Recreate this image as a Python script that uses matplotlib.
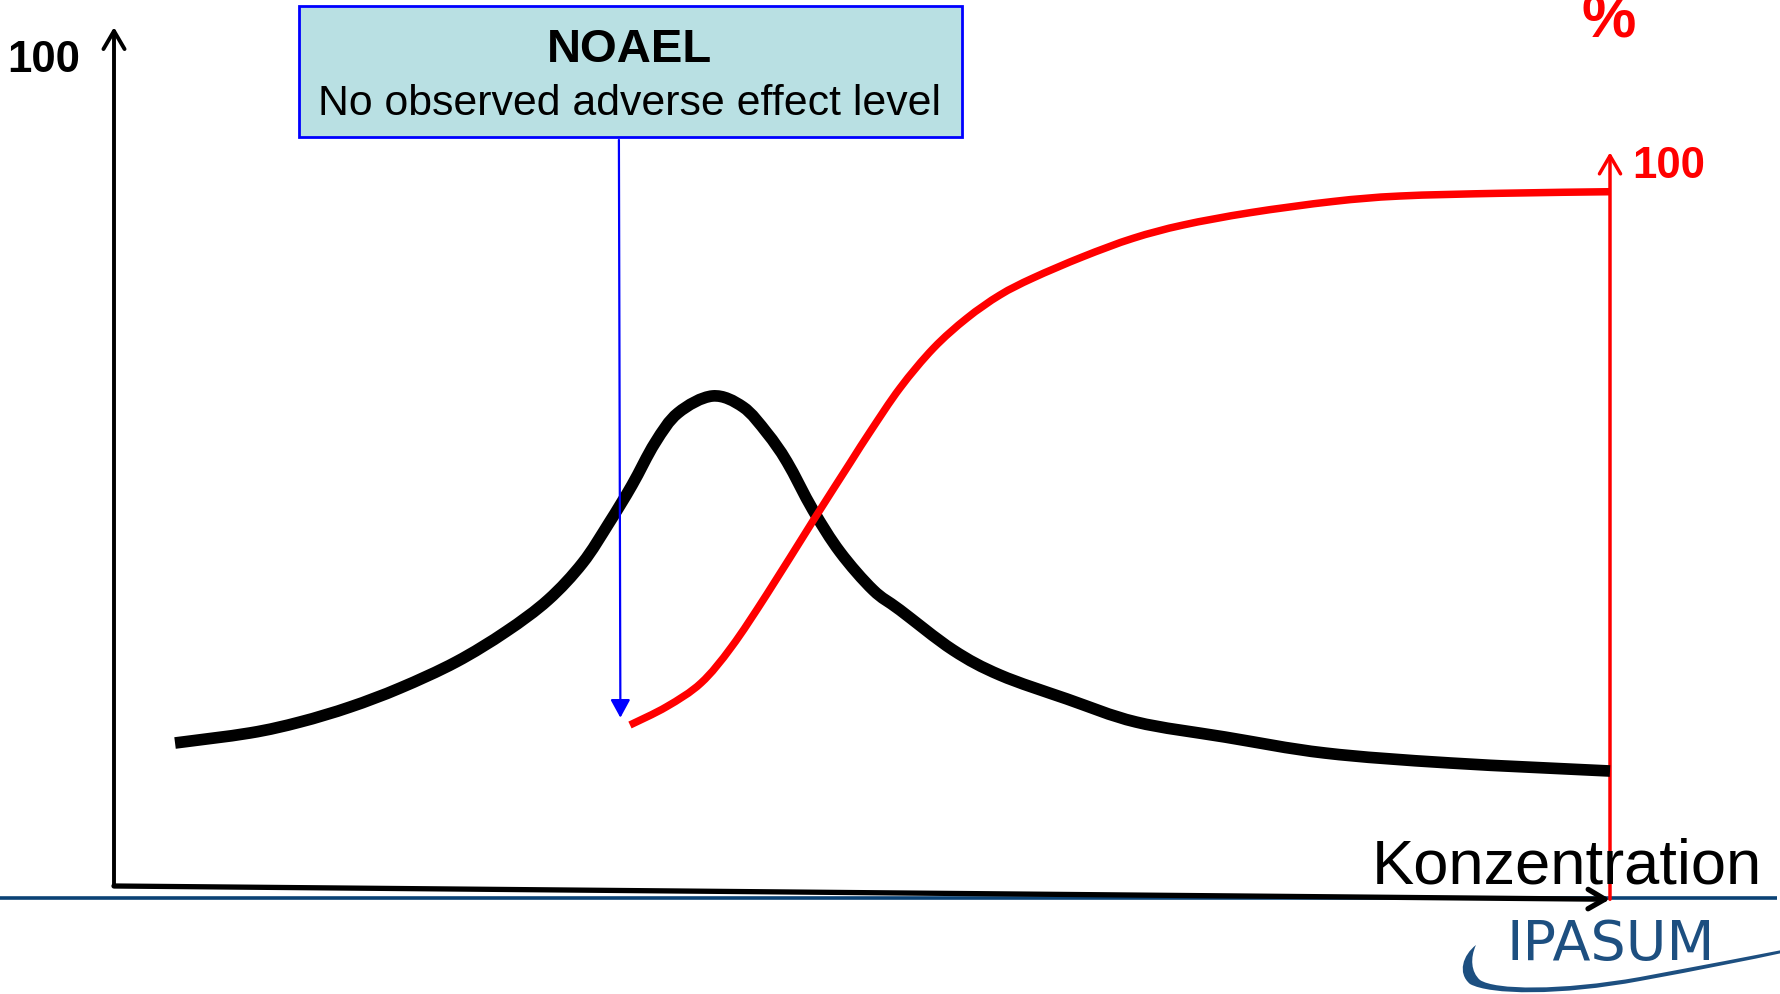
import matplotlib
matplotlib.use("Agg")
import matplotlib.pyplot as plt
from matplotlib.patches import Rectangle, PathPatch
from matplotlib.path import Path

# ---------------- data (concentration in %, effect in %) ----------------
conc_black = [4.08, 9.09, 12.43, 15.78, 19.12, 22.86, 26.20, 29.01, 31.32, 33.09,
              34.63, 36.16, 37.70, 40.01, 42.05, 43.65, 44.99, 46.72,
              48.53, 50.74, 52.54, 56.08, 59.22, 63.70, 68.32, 74.26, 80.95, 89.30, 100.0]
effect_black = [17.25, 18.46, 19.78, 21.59, 23.88, 27.02, 30.68, 34.50, 38.96, 43.79,
                48.37, 53.44, 57.06, 59.11, 57.78, 54.64, 51.15, 45.36,
                40.29, 35.71, 33.29, 28.47, 25.45, 22.56, 19.78, 17.97, 16.04, 14.84, 13.87]

conc_red = [34.49, 36.94, 39.24, 41.29, 43.65, 46.72, 49.20, 50.53, 52.54, 54.77,
            57.00, 59.22, 61.43, 64.77, 68.12, 71.46, 75.94, 81.48, 85.96, 92.65, 100.0]
effect_red = [19.42, 21.63, 24.49, 28.87, 35.22, 44.03, 51.03, 54.76, 60.07, 64.86,
              68.48, 71.29, 73.34, 75.91, 78.13, 79.73, 81.22, 82.57, 83.23, 83.56, 83.75]

noael_conc = 33.75
noael_arrow = [90.0, 20.3]          # start / end of the NOAEL pointer (effect units)
y_axis_range = [0.0, 103.6]
x_axis_conc = [0.0, 100.0]
x_axis_effect = [0.0, -1.6]
red_axis_range = [-1.6, 88.5]

left_label = "100"
right_label = "100"
right_unit = "%"
x_label = "Konzentration"
box_title = "NOAEL"
box_sub = "No observed adverse effect level"
logo_text = "IPASUM"

# ---------------- figure ----------------
W, H = 1781, 994
fig = plt.figure(figsize=(W / 100, H / 100), dpi=100)
fig.patch.set_facecolor("white")


def fx(px):
    return px / W


def fy(py):
    return 1 - py / H


def smooth_path(xs, ys):
    """Cubic Bezier path passing through every given point (Catmull-Rom)."""
    pts = list(zip(xs, ys))
    n = len(pts)
    verts = [pts[0]]
    codes = [Path.MOVETO]
    for i in range(n - 1):
        p0 = pts[i - 1] if i > 0 else pts[i]
        p1 = pts[i]
        p2 = pts[i + 1]
        p3 = pts[i + 2] if i + 2 < n else pts[i + 1]
        c1 = (p1[0] + (p2[0] - p0[0]) / 6.0, p1[1] + (p2[1] - p0[1]) / 6.0)
        c2 = (p2[0] - (p3[0] - p1[0]) / 6.0, p2[1] - (p3[1] - p1[1]) / 6.0)
        verts += [c1, c2, p2]
        codes += [Path.CURVE4] * 3
    return Path(verts, codes)


# decoration layer in pixel coordinates
deco = fig.add_axes([0, 0, 1, 1])
deco.set_xlim(0, W)
deco.set_ylim(H, 0)
deco.axis("off")

navy = "#0a4275"
deco.plot([0, 1777], [898, 898], color=navy, lw=2.6, solid_capstyle="butt", zorder=1)

deco.add_patch(Rectangle((299, 6), 663, 131, facecolor="#b9e0e3",
                         edgecolor="#0000ff", lw=2.0, zorder=2))

# logo swoosh
verts = [(1476, 945), (1463, 955), (1457, 973), (1470, 984),
         (1490, 995), (1560, 996), (1640, 981),
         (1700, 970), (1750, 960), (1782, 953),
         (1782, 950),
         (1750, 956), (1700, 966), (1640, 977),
         (1560, 991), (1495, 990), (1480, 980),
         (1471, 972), (1470, 958), (1476, 945),
         (1476, 945)]
codes = ([Path.MOVETO] + [Path.CURVE4] * 9 + [Path.LINETO] + [Path.CURVE4] * 9
         + [Path.CLOSEPOLY])
deco.add_patch(PathPatch(Path(verts, codes), facecolor="#1d4f80",
                         edgecolor="none", zorder=2))

# data layer
x0px, x100px = 114, 1610
y0px, y100px = 886, 57
sx = (x100px - x0px) / 100.0
sy = (y0px - y100px) / 100.0
ax = fig.add_axes([0, 0, 1, 1])
ax.set_xlim(-x0px / sx, (W - x0px) / sx)
ax.set_ylim(-(H - y0px) / sy, y0px / sy)
ax.axis("off")
ax.patch.set_alpha(0)

# axes drawn as arrows
ax.annotate("", xy=(0, y_axis_range[1]), xytext=(0, y_axis_range[0]),
            arrowprops=dict(arrowstyle="->,head_length=0.65,head_width=0.38",
                            mutation_scale=20, lw=2.8, color="black",
                            shrinkA=0, shrinkB=0), zorder=3)
ax.annotate("", xy=(x_axis_conc[1], x_axis_effect[1]),
            xytext=(x_axis_conc[0], x_axis_effect[0]),
            arrowprops=dict(arrowstyle="->,head_length=0.6,head_width=0.35",
                            mutation_scale=20, lw=3.8, color="black",
                            shrinkA=0, shrinkB=0), zorder=3)
ax.annotate("", xy=(100, red_axis_range[1]), xytext=(100, red_axis_range[0]),
            arrowprops=dict(arrowstyle="->,head_length=0.65,head_width=0.38",
                            mutation_scale=20, lw=2.5, color="#ff0000",
                            shrinkA=0, shrinkB=0), zorder=4)

# curves (smooth strokes through the read values)
black_curve = PathPatch(smooth_path(conc_black, effect_black), fill=False,
                        edgecolor="black", lw=8.4, capstyle="butt",
                        joinstyle="round", zorder=5)
ax.add_patch(black_curve)
red_curve = PathPatch(smooth_path(conc_red, effect_red), fill=False,
                      edgecolor="#ff0000", lw=5.4, capstyle="butt",
                      joinstyle="round", zorder=6)
ax.add_patch(red_curve)

# NOAEL pointer
ax.annotate("", xy=(noael_conc + 0.1, noael_arrow[1]), xytext=(noael_conc, noael_arrow[0]),
            arrowprops=dict(arrowstyle="-|>,head_length=0.55,head_width=0.3",
                            mutation_scale=20, lw=1.6, color="#0000ff",
                            shrinkA=0, shrinkB=0), zorder=7)

# texts
font = ["Liberation Sans", "DejaVu Sans"]
fig.text(fx(44), fy(72), left_label, ha="center", va="baseline",
         fontsize=31.5, fontweight="bold", family=font, color="black")
fig.text(fx(1632), fy(178), right_label, ha="left", va="baseline",
         fontsize=31.5, fontweight="bold", family=font, color="#ff0000")
fig.text(fx(1609), fy(38), right_unit, ha="center", va="baseline",
         fontsize=44, fontweight="bold", family=font, color="#ff0000")
fig.text(fx(1372), fy(883), x_label, ha="left", va="baseline",
         fontsize=45.5, family=font, color="black")
fig.text(fx(630), fy(62), box_title, ha="center", va="baseline",
         fontsize=34, fontweight="bold", family=font, color="black")
fig.text(fx(630), fy(115), box_sub, ha="center", va="baseline",
         fontsize=30.8, family=font, color="black")
fig.text(fx(1611), fy(960), logo_text, ha="center", va="baseline",
         fontsize=40, family="DejaVu Sans", color="#1d4f80")

fig.savefig("out.png", dpi=100, facecolor="white")
